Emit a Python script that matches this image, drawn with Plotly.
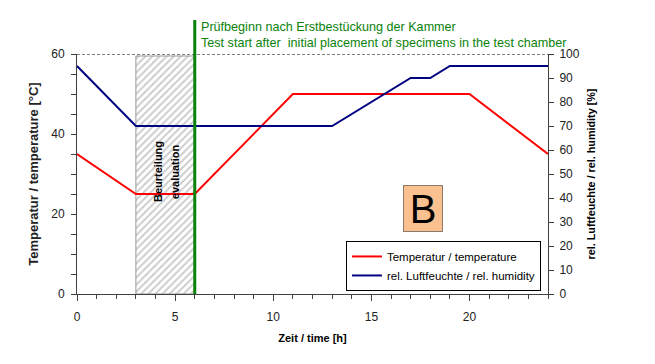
import plotly.graph_objects as go

# Data
time_temp = [0, 3, 6, 11, 20, 24]
temperature = [35, 25, 25, 50, 50, 35]
time_hum = [0, 3, 13, 17, 18, 19, 24]
humidity = [95, 70, 70, 90, 90, 95, 95]
eval_window = [3, 6]        # Beurteilung / evaluation period [h]
eval_top = 59.5
test_start = 6              # Prüfbeginn [h]
x_ticks = [0, 5, 10, 15, 20]
y_left_ticks = [0, 20, 40, 60]
y_right_ticks = list(range(0, 101, 10))

FONT = "Liberation Sans"
GREEN = "#0a820a"

fig = go.Figure()

# hatched evaluation area
fig.add_trace(go.Scatter(
    x=[eval_window[0], eval_window[1], eval_window[1], eval_window[0], eval_window[0]],
    y=[0, 0, eval_top, eval_top, 0],
    mode="lines", fill="toself",
    line=dict(color="#999999", width=1),
    fillcolor="white",
    fillpattern=dict(shape="/", fgcolor="#9a9a9a", bgcolor="white", size=5, solidity=0.4),
    showlegend=False, hoverinfo="skip"))

fig.add_trace(go.Scatter(
    x=time_temp, y=temperature, mode="lines",
    name="Temperatur / temperature",
    line=dict(color="#ff0000", width=2)))

fig.add_trace(go.Scatter(
    x=time_hum, y=humidity, mode="lines",
    name="rel. Luftfeuchte / rel. humidity",
    line=dict(color="#000080", width=2), yaxis="y2"))

# dashed top line at 60
fig.add_shape(type="line", xref="x", yref="y", x0=0, x1=24, y0=60, y1=60,
              line=dict(color="black", width=1, dash="3px,2px"))
# green vertical line at test start
fig.add_shape(type="line", xref="x", yref="paper", x0=test_start, x1=test_start,
              y0=0, y1=1.142, line=dict(color=GREEN, width=3), layer="above")

fig.add_annotation(xref="paper", yref="paper", x=0.259, y=1.08, xanchor="left", yanchor="middle",
                   text="Prüfbeginn nach Erstbestückung der Kammer<br>Test start after  initial placement of specimens in the test chamber",
                   showarrow=False, align="left", font=dict(family=FONT, size=12.6, color=GREEN))

fig.add_annotation(x=4.13, y=30.5, xref="x", yref="y",
                   text="<b>Beurteilung</b>", textangle=-90, showarrow=False,
                   font=dict(family=FONT, size=11, color="black"))
fig.add_annotation(x=5.0, y=30.5, xref="x", yref="y",
                   text="<b>evaluation</b>", textangle=-90, showarrow=False,
                   font=dict(family=FONT, size=11, color="black"))

fig.add_annotation(x=17.65, y=21.4, xref="x", yref="y", text="B", showarrow=False,
                   font=dict(family=FONT, size=40, color="black"),
                   bgcolor="#fac090", bordercolor="#8c7a6a", borderwidth=1,
                   width=38, height=45, borderpad=0)

axis_common = dict(showgrid=False, zeroline=False, showline=True, linecolor="#404040",
                   linewidth=1, tickcolor="#404040", ticks="outside",
                   tickfont=dict(family=FONT, size=12, color="#222"))

fig.update_layout(
    width=647, height=356,
    margin=dict(l=69, r=107, t=46, b=70),
    paper_bgcolor="white", plot_bgcolor="white",
    font=dict(family=FONT, color="black"),
    xaxis=dict(range=[0, 24], tickvals=x_ticks, ticklen=6, ticklabelstandoff=6,
               minor=dict(dtick=1, ticks="outside", ticklen=4, tickcolor="#404040"),
               title=dict(text="<b>Zeit / time [h]</b>", font=dict(family=FONT, size=11), standoff=10),
               **axis_common),
    yaxis=dict(range=[0, 60], tickvals=y_left_ticks, ticklen=5, ticklabelstandoff=4,
               minor=dict(dtick=5, ticks="outside", ticklen=5, tickcolor="#404040"),
               title=dict(text="<b>Temperatur / temperature [°C]</b>", font=dict(family=FONT, size=13, color="#222"), standoff=9),
               **axis_common),
    yaxis2=dict(range=[0, 100], tickvals=y_right_ticks, overlaying="y", side="right", ticklen=5,
                ticklabelstandoff=3,
                title=dict(text="<b>rel. Luftfeuchte / rel. humidity [%]</b>", font=dict(family=FONT, size=10.8), standoff=8),
                **axis_common),
    legend=dict(x=0.571, y=0.221, xanchor="left", yanchor="top",
                bgcolor="white", bordercolor="black", borderwidth=1,
                font=dict(family=FONT, size=11.5, color="black"),
                itemwidth=30, tracegroupgap=0),
    showlegend=True,
)

fig.write_html("out.html")
